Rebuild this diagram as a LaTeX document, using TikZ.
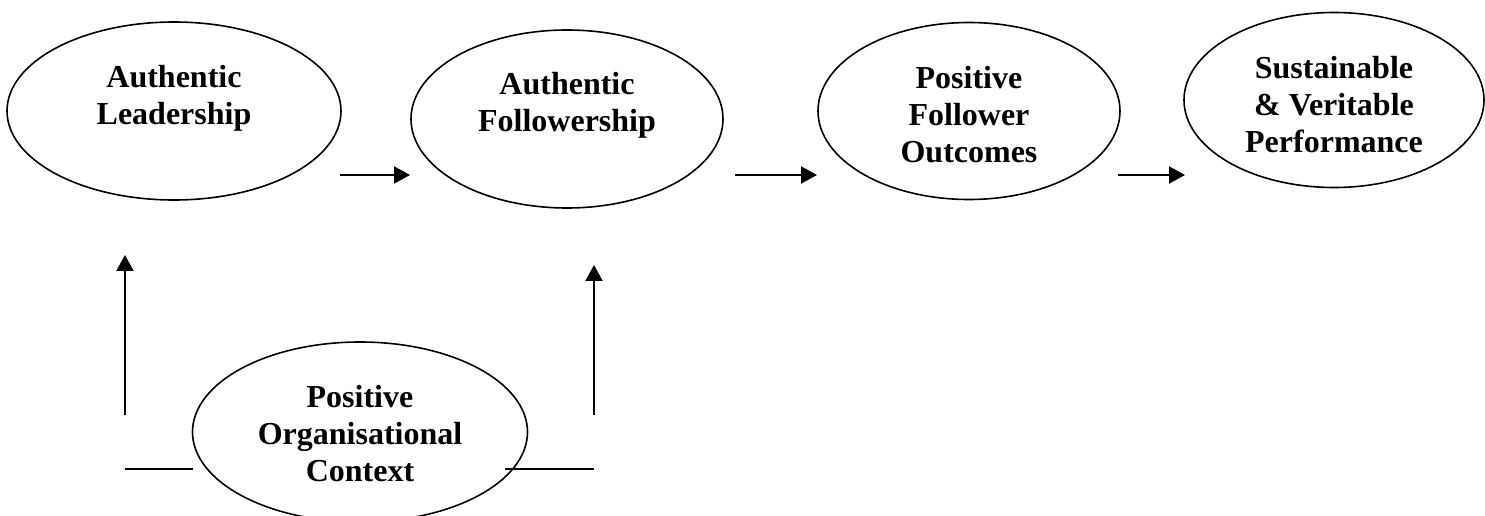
\documentclass[tikz,border=0pt]{standalone}
\usepackage{fontspec}
\setmainfont{Liberation Serif}
\usetikzlibrary{
    arrows.meta,
    shapes,
    calc,
    positioning
}
\tikzset{oval/.style={ellipse, draw=black, line width=0.8pt, inner sep=0pt},
         lbl/.style={align=center, font=\bfseries\fontsize{16}{18.5}\selectfont},
         flow/.style={-{Triangle[length=8pt, width=8.5pt]}, line width=1.1pt}}

\begin{document}
\begin{tikzpicture}[x=0.5pt, y=0.5pt]
                        \useasboundingbox (0, 0) rectangle (1485, 515);
                        \node[oval, minimum width=167pt, minimum height=89pt] (lead) at (174, 404) {};
                        \node[oval, minimum width=156pt, minimum height=89pt] (foll) at (567, 396) {};
                        \node[oval, minimum width=151pt, minimum height=88.5pt] (outc) at (969, 404) {};
                        \node[oval, minimum width=150pt, minimum height=87.5pt] (sust) at (1334, 415) {};
                        \node[oval, minimum width=167.5pt, minimum height=90pt] (ctx) at (360, 83) {};

                        \node[lbl] (leadtxt) at ($(lead) + (0, 13)$) {Authentic\\Leadership};
                        \node[lbl] (folltxt) at ($(foll) + (0, 14)$) {Authentic\\Followership};
                        \node[lbl] (outctxt) at ($(outc) + (0, -4)$) {Positive\\Follower\\Outcomes};
                        \node[lbl] (susttxt) at ($(sust) + (0, -5)$) {Sustainable\\\& Veritable\\Performance};
                        \node[lbl] (ctxtxt) at ($(ctx) + (0, -2)$) {Positive\\Organisational\\Context};

                        \coordinate (p1) at (340, 340);   \coordinate (q1) at (410, 340);
                        \coordinate (p2) at (735, 340);   \coordinate (q2) at (817, 340);
                        \coordinate (p3) at (1118, 340);  \coordinate (q3) at (1185, 340);
                        \coordinate (lb) at (125, 100);   \coordinate (lt) at (125, 260);
                        \coordinate (rb) at (594, 100);   \coordinate (rt) at (594, 250);
                        \coordinate (ll) at (125, 46);    \coordinate (lr) at (193, 46);
                        \coordinate (rl) at (505, 46);    \coordinate (rr) at (594, 46);

                        \draw[flow] (p1) -- (q1);
                        \draw[flow] (p2) -- (q2);
                        \draw[flow] (p3) -- (q3);
                        \draw[flow] (lb) -- (lt);
                        \draw[flow] (rb) -- (rt);
                        \draw[line width=1pt]
                        (ll) -- (lr)
                        (rl) -- (rr);
                    \end{tikzpicture}
\end{document}
